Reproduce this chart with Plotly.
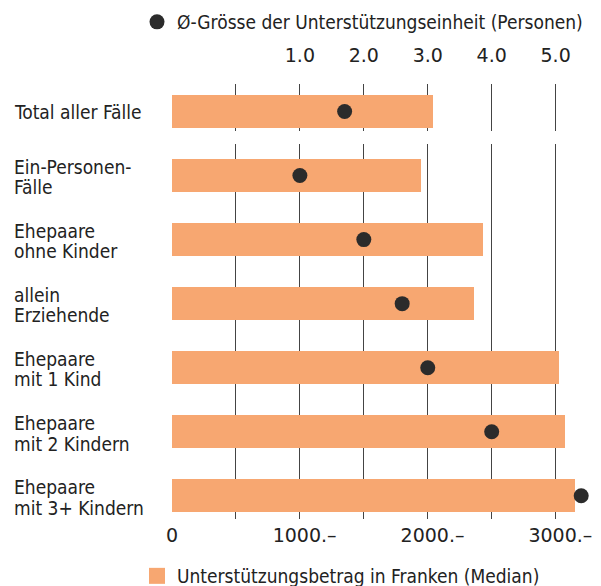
import plotly.graph_objects as go

# Gruppen der Unterstützungseinheiten (erste Zeile: Total)
kategorien = [
    "Total aller Fälle",
    "Ein-Personen-<br>Fälle",
    "Ehepaare<br>ohne Kinder",
    "allein<br>Erziehende",
    "Ehepaare<br>mit 1 Kind",
    "Ehepaare<br>mit 2 Kindern",
    "Ehepaare<br>mit 3+ Kindern",
]
# Unterstützungsbetrag in Franken (Median)
betrag = [2040, 1950, 2430, 2360, 3030, 3070, 3150]
# Ø-Grösse der Unterstützungseinheit (Personen)
groesse = [1.7, 1.0, 2.0, 2.6, 3.0, 4.0, 5.4]

betrag_ticks = [0, 500, 1000, 1500, 2000, 2500, 3000]
betrag_ticktext = ["0", "", "\u20021000.–", "", "\u20022000.–", "", "\u20023000.–"]
groesse_ticks = [1, 2, 3, 4, 5]
groesse_ticktext = ["1.0", "2.0", "3.0", "4.0", "5.0"]

FONT = "DejaVu Sans Condensed, DejaVu Sans, sans-serif"
TICK_FONT = "DejaVu Sans, sans-serif"
ORANGE = "#F7A771"
DOT = "#2B2B2B"
TEXT = "#222222"
GRID = "#444444"

W, H = 601, 586
ML, MR, MT, MB = 172, 7, 84, 67
PW = W - ML - MR
PH = H - MT - MB

BETRAG_MAX = 3300
# Personen-Skala: 1 Person entspricht 500 Franken, versetzt um eine Person
G_RANGE = [-1, BETRAG_MAX / 500 - 1]

fig = go.Figure()

top_cat, rest_cat = kategorien[:1], kategorien[1:]
top_b, rest_b = betrag[:1], betrag[1:]
top_g, rest_g = groesse[:1], groesse[1:]

# Balken
fig.add_trace(go.Bar(x=top_b, y=top_cat, orientation="h", width=0.51,
                     marker=dict(color=ORANGE, line_width=0), xaxis="x2", yaxis="y2",
                     showlegend=False, hoverinfo="x+y"))
fig.add_trace(go.Bar(x=rest_b, y=rest_cat, orientation="h", width=0.51,
                     marker=dict(color=ORANGE, line_width=0), xaxis="x", yaxis="y",
                     showlegend=False, hoverinfo="x+y"))

# Punkte (Personen)
fig.add_trace(go.Scatter(x=top_g, y=top_cat, mode="markers", xaxis="x3", yaxis="y2",
                         marker=dict(color=DOT, size=15),
                         name="Ø-Grösse der Unterstützungseinheit (Personen)",
                         legend="legend"))
fig.add_trace(go.Scatter(x=rest_g, y=rest_cat, mode="markers", xaxis="x4", yaxis="y",
                         marker=dict(color=DOT, size=15), showlegend=False))

# Legendenschlüssel für die Balken
fig.add_trace(go.Scatter(x=[None], y=[None], mode="markers", xaxis="x", yaxis="y",
                         marker=dict(color=ORANGE, size=18, symbol="square"),
                         name="Unterstützungsbetrag in Franken (Median)",
                         legend="legend2"))

# Bereiche der beiden Blöcke in Pixeln (oben Total, unten Gruppen)
top_px = (84, 131)
bot_px = (144, 519)
def dom(a, b):
    return [(H - MB - b) / PH, (H - MB - a) / PH]

grid_axis = dict(range=[0, BETRAG_MAX], tickvals=betrag_ticks, showgrid=True,
                 gridcolor=GRID, gridwidth=1.3, zeroline=False, showline=False,
                 fixedrange=True)

fig.update_layout(
    width=W, height=H,
    margin=dict(l=ML, r=MR, t=MT, b=MB, autoexpand=False),
    paper_bgcolor="white", plot_bgcolor="white",
    font=dict(family=FONT, size=19, color=TEXT),
    bargap=0,
    xaxis=dict(**grid_axis, anchor="y", ticktext=betrag_ticktext,
               ticks="", ticklabelstandoff=3,
               tickfont=dict(family=TICK_FONT, size=19, color=TEXT), automargin=False),
    xaxis2=dict(**grid_axis, anchor="y2", showticklabels=False, matches="x"),
    xaxis3=dict(range=G_RANGE, overlaying="x2", anchor="y2", side="top",
                tickvals=groesse_ticks, ticktext=groesse_ticktext, showgrid=False,
                zeroline=False, showline=False, ticks="outside", ticklen=13,
                tickcolor="rgba(0,0,0,0)",
                tickfont=dict(family=TICK_FONT, size=19, color=TEXT),
                automargin=False),
    xaxis4=dict(range=G_RANGE, overlaying="x", anchor="y", visible=False),
    yaxis=dict(domain=dom(*bot_px), type="category", range=[5.362, -0.492],
               showticklabels=False, showgrid=False, zeroline=False),
    yaxis2=dict(domain=dom(*top_px), type="category", range=[0.304, -0.429],
                showticklabels=False, showgrid=False, zeroline=False),
    legend=dict(x=(137 - ML) / PW, xanchor="left", y=(H - MB - 22) / PH,
                yanchor="middle", font=dict(size=19, color=TEXT),
                bgcolor="rgba(0,0,0,0)", itemsizing="trace"),
    legend2=dict(x=(137 - ML) / PW, xanchor="left", y=(H - MB - 576) / PH,
                 yanchor="middle", font=dict(size=19, color=TEXT),
                 bgcolor="rgba(0,0,0,0)", itemsizing="trace"),
)

# Gruppenbeschriftungen linksbündig, Zeilen eng gesetzt
LINE_SHIFT = {1: [0], 2: [8.6, -11.8]}
for i, cat in enumerate(kategorien):
    zeilen = cat.split("<br>")
    for zeile, shift in zip(zeilen, LINE_SHIFT[len(zeilen)]):
        fig.add_annotation(text=zeile, x=(12 - ML) / PW, xref="paper", xanchor="left",
                           y=cat, yref="y2" if i == 0 else "y", yanchor="middle",
                           yshift=shift, align="left", showarrow=False,
                           font=dict(size=19, color=TEXT))

fig.write_html("out.html")
